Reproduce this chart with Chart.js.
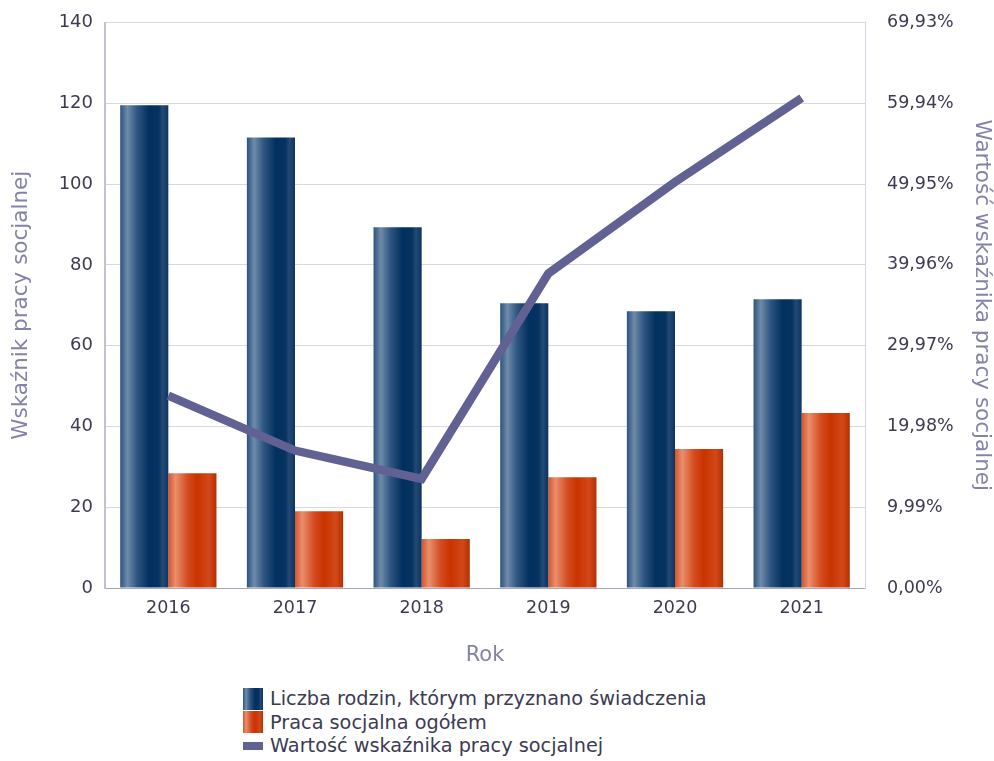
<!DOCTYPE html>
<html>
<head>
<meta charset="utf-8">
<script src="https://cdn.jsdelivr.net/npm/chart.js@4"></script>
<style>
  body { margin: 0; background: #fff; font-family: "DejaVu Sans", sans-serif; overflow: hidden; }
  #wrap { position: relative; width: 994px; height: 690px; margin-top: -10px; }
  #legend { margin-left: 243px; margin-top: 7px; font-size: 19.3px; color: #3c3b52; line-height: 23.5px; }
  .item { display: flex; align-items: center; }
  .box { width: 20px; height: 22px; margin-right: 7px; }
  .ln { width: 20px; height: 8px; margin-right: 7px; margin-top: 3px; margin-bottom: 3px; }
</style>
</head>
<body>
<div id="wrap"><canvas id="chart" width="994" height="690"></canvas></div>
<div id="legend"></div>
<script>
// Data
const years = ['2016', '2017', '2018', '2019', '2020', '2021'];
const families = [119.5, 111.5, 89.3, 70.5, 68.5, 71.5];
const socialWork = [28.4, 19.0, 12.1, 27.4, 34.4, 43.3];
const indexValue = [23.8, 17.0, 13.5, 38.9, 50.2, 60.6];
const rightTicks = [0, 9.99, 19.98, 29.97, 39.96, 49.95, 59.94, 69.93];

const blueStops = [[0, '#2b5380'], [0.15, '#6f8ba9'], [0.35, '#2f5682'], [0.6, '#02305f'], [0.8, '#063361'], [0.88, '#244a74'], [1, '#0b3461']];
const orangeStops = [[0, '#d8532a'], [0.15, '#e98f6d'], [0.4, '#d54b1f'], [0.6, '#c93300'], [0.85, '#d2481a'], [1, '#b52f00']];

const CAT_PCT = 0.76;
const FONT = 'DejaVu Sans';

// horizontal gradient across each bar, bar position taken from the x scale
function barGradient(stops, side) {
    return function (context) {
        const chart = context.chart;
        const xs = chart.scales.x;
        if (!xs || !chart.chartArea) return stops[3][1];
        const catW = xs.width / years.length;
        const barW = catW * CAT_PCT / 2;
        const c = xs.getPixelForValue(context.dataIndex);
        const left = side === 0 ? c - barW : c;
        const g = chart.ctx.createLinearGradient(left, 0, left + barW, 0);
        stops.forEach(s => g.addColorStop(s[0], s[1]));
        return g;
    };
}

const tickColor = '#3c3b52';
const titleColor = '#8482ab';
const gridColor = '#dad7e4';

const ctx = document.getElementById('chart').getContext('2d');
const chart = new Chart(ctx, {
    type: 'bar',
    data: {
        labels: years,
        datasets: [
            {
                type: 'line',
                label: 'Wartość wskaźnika pracy socjalnej',
                data: indexValue,
                yAxisID: 'y1',
                borderColor: '#626194',
                backgroundColor: '#626194',
                borderWidth: 8.5,
                pointRadius: 0,
                tension: 0,
                borderJoinStyle: 'miter',
                order: 0
            },
            {
                label: 'Liczba rodzin, którym przyznano świadczenia',
                data: families,
                yAxisID: 'y',
                backgroundColor: barGradient(blueStops, 0),
                categoryPercentage: CAT_PCT,
                barPercentage: 1,
                order: 1
            },
            {
                label: 'Praca socjalna ogółem',
                data: socialWork,
                yAxisID: 'y',
                backgroundColor: barGradient(orangeStops, 1),
                categoryPercentage: CAT_PCT,
                barPercentage: 1,
                order: 2
            }
        ]
    },
    options: {
        responsive: false,
        animation: false,
        layout: { padding: { top: 12, left: 9, right: 0, bottom: 0 } },
        plugins: {
            legend: { display: false },
            tooltip: { enabled: false }
        },
        scales: {
            x: {
                grid: { display: false, drawTicks: false },
                border: { color: '#a9a7c0', width: 1 },
                ticks: { color: tickColor, font: { family: FONT, size: 17.5 }, padding: 10 },
                title: { display: true, text: 'Rok', color: titleColor, font: { family: FONT, size: 21 }, padding: { top: 2, bottom: 12 } },
                afterFit(s) { s.height = 92; }
            },
            y: {
                position: 'left',
                min: 0, max: 140,
                ticks: { stepSize: 20, color: tickColor, font: { family: FONT, size: 18 }, padding: 12 },
                grid: { color: gridColor, drawTicks: false },
                border: { color: '#c3c0d6', width: 2 },
                title: { display: true, text: 'Wskaźnik pracy socjalnej', color: titleColor, font: { family: FONT, size: 21.5 }, padding: 0 },
                afterFit(s) { s.width = 96; }
            },
            y1: {
                position: 'right',
                min: 0, max: 69.93,
                afterBuildTicks(s) { s.ticks = rightTicks.map(v => ({ value: v })); },
                ticks: {
                    color: tickColor, font: { family: FONT, size: 17.5 }, padding: 22,
                    callback: v => v.toFixed(2).replace('.', ',') + '%'
                },
                grid: { display: false, drawTicks: false },
                border: { color: '#d6d4e2', width: 1 },
                title: { display: true, text: 'Wartość wskaźnika pracy socjalnej', color: titleColor, font: { family: FONT, size: 21.5 }, padding: 0 },
                afterFit(s) { s.width = 994 - 865; }
            }
        }
    }
});

// Legend below the chart, one item per line
const legend = document.getElementById('legend');
const legendOrder = [1, 2, 0];
legendOrder.forEach(i => {
    const ds = chart.data.datasets[i];
    const item = document.createElement('div');
    item.className = 'item';
    const mark = document.createElement('span');
    if (ds.type === 'line') {
        mark.className = 'ln';
        mark.style.background = ds.borderColor;
    } else {
        const stops = i === 1 ? blueStops : orangeStops;
        mark.className = 'box';
        mark.style.background = 'linear-gradient(to right,' + stops.map(s => s[1] + ' ' + (s[0] * 100) + '%').join(',') + ')';
    }
    item.appendChild(mark);
    item.appendChild(document.createTextNode(ds.label));
    legend.appendChild(item);
});
</script>
</body>
</html>
